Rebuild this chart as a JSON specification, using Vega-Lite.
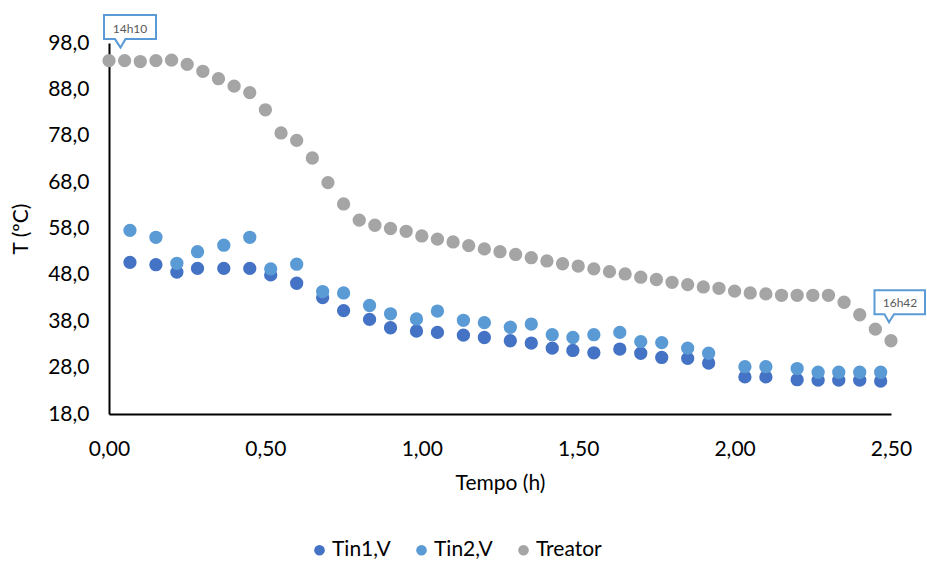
{
  "$schema": "https://vega.github.io/schema/vega-lite/v6.json",
  "autosize": {"type": "none"},
  "width": 782,
  "height": 371,
  "padding": {"left": 109, "top": 43, "right": 36, "bottom": 147},
  "background": "white",
  "config": {
    "view": {"stroke": null},
    "font": "Lato",
    "axis": {"grid": false, "ticks": false, "labelFlush": false, "labelOverlap": false, "domainColor": "#000000", "domainWidth": 2, "labelFont": "Lato", "labelFontSize": 21, "labelColor": "#000000", "titleFont": "Lato", "titleFontSize": 21, "titleFontWeight": "normal", "titleColor": "#000000"}
  },
  "datasets": {
    "series": [
      {"t": 0.067, "T": 50.7, "serie": "Tin1,V"},
      {"t": 0.150, "T": 50.2, "serie": "Tin1,V"},
      {"t": 0.217, "T": 48.6, "serie": "Tin1,V"},
      {"t": 0.283, "T": 49.4, "serie": "Tin1,V"},
      {"t": 0.367, "T": 49.4, "serie": "Tin1,V"},
      {"t": 0.450, "T": 49.4, "serie": "Tin1,V"},
      {"t": 0.517, "T": 48.0, "serie": "Tin1,V"},
      {"t": 0.600, "T": 46.2, "serie": "Tin1,V"},
      {"t": 0.683, "T": 43.1, "serie": "Tin1,V"},
      {"t": 0.750, "T": 40.3, "serie": "Tin1,V"},
      {"t": 0.833, "T": 38.4, "serie": "Tin1,V"},
      {"t": 0.900, "T": 36.6, "serie": "Tin1,V"},
      {"t": 0.983, "T": 35.9, "serie": "Tin1,V"},
      {"t": 1.050, "T": 35.6, "serie": "Tin1,V"},
      {"t": 1.133, "T": 35.0, "serie": "Tin1,V"},
      {"t": 1.200, "T": 34.5, "serie": "Tin1,V"},
      {"t": 1.283, "T": 33.8, "serie": "Tin1,V"},
      {"t": 1.350, "T": 33.3, "serie": "Tin1,V"},
      {"t": 1.417, "T": 32.2, "serie": "Tin1,V"},
      {"t": 1.483, "T": 31.7, "serie": "Tin1,V"},
      {"t": 1.550, "T": 31.2, "serie": "Tin1,V"},
      {"t": 1.633, "T": 32.0, "serie": "Tin1,V"},
      {"t": 1.700, "T": 31.1, "serie": "Tin1,V"},
      {"t": 1.767, "T": 30.2, "serie": "Tin1,V"},
      {"t": 1.850, "T": 30.0, "serie": "Tin1,V"},
      {"t": 1.917, "T": 29.0, "serie": "Tin1,V"},
      {"t": 2.033, "T": 26.0, "serie": "Tin1,V"},
      {"t": 2.100, "T": 26.0, "serie": "Tin1,V"},
      {"t": 2.200, "T": 25.4, "serie": "Tin1,V"},
      {"t": 2.267, "T": 25.3, "serie": "Tin1,V"},
      {"t": 2.333, "T": 25.3, "serie": "Tin1,V"},
      {"t": 2.400, "T": 25.3, "serie": "Tin1,V"},
      {"t": 2.467, "T": 25.1, "serie": "Tin1,V"},
      {"t": 0.067, "T": 57.6, "serie": "Tin2,V"},
      {"t": 0.150, "T": 56.1, "serie": "Tin2,V"},
      {"t": 0.217, "T": 50.5, "serie": "Tin2,V"},
      {"t": 0.283, "T": 53.0, "serie": "Tin2,V"},
      {"t": 0.367, "T": 54.4, "serie": "Tin2,V"},
      {"t": 0.450, "T": 56.1, "serie": "Tin2,V"},
      {"t": 0.517, "T": 49.3, "serie": "Tin2,V"},
      {"t": 0.600, "T": 50.3, "serie": "Tin2,V"},
      {"t": 0.683, "T": 44.4, "serie": "Tin2,V"},
      {"t": 0.750, "T": 44.1, "serie": "Tin2,V"},
      {"t": 0.833, "T": 41.4, "serie": "Tin2,V"},
      {"t": 0.900, "T": 39.6, "serie": "Tin2,V"},
      {"t": 0.983, "T": 38.5, "serie": "Tin2,V"},
      {"t": 1.050, "T": 40.2, "serie": "Tin2,V"},
      {"t": 1.133, "T": 38.2, "serie": "Tin2,V"},
      {"t": 1.200, "T": 37.7, "serie": "Tin2,V"},
      {"t": 1.283, "T": 36.7, "serie": "Tin2,V"},
      {"t": 1.350, "T": 37.4, "serie": "Tin2,V"},
      {"t": 1.417, "T": 35.1, "serie": "Tin2,V"},
      {"t": 1.483, "T": 34.5, "serie": "Tin2,V"},
      {"t": 1.550, "T": 35.1, "serie": "Tin2,V"},
      {"t": 1.633, "T": 35.6, "serie": "Tin2,V"},
      {"t": 1.700, "T": 33.6, "serie": "Tin2,V"},
      {"t": 1.767, "T": 33.4, "serie": "Tin2,V"},
      {"t": 1.850, "T": 32.2, "serie": "Tin2,V"},
      {"t": 1.917, "T": 31.1, "serie": "Tin2,V"},
      {"t": 2.033, "T": 28.2, "serie": "Tin2,V"},
      {"t": 2.100, "T": 28.2, "serie": "Tin2,V"},
      {"t": 2.200, "T": 27.8, "serie": "Tin2,V"},
      {"t": 2.267, "T": 27.0, "serie": "Tin2,V"},
      {"t": 2.333, "T": 27.0, "serie": "Tin2,V"},
      {"t": 2.400, "T": 27.0, "serie": "Tin2,V"},
      {"t": 2.467, "T": 27.0, "serie": "Tin2,V"},
      {"t": 0.00, "T": 94.2, "serie": "Treator"},
      {"t": 0.05, "T": 94.2, "serie": "Treator"},
      {"t": 0.10, "T": 94.0, "serie": "Treator"},
      {"t": 0.15, "T": 94.2, "serie": "Treator"},
      {"t": 0.20, "T": 94.3, "serie": "Treator"},
      {"t": 0.25, "T": 93.4, "serie": "Treator"},
      {"t": 0.30, "T": 91.9, "serie": "Treator"},
      {"t": 0.35, "T": 90.3, "serie": "Treator"},
      {"t": 0.40, "T": 88.7, "serie": "Treator"},
      {"t": 0.45, "T": 87.3, "serie": "Treator"},
      {"t": 0.50, "T": 83.6, "serie": "Treator"},
      {"t": 0.55, "T": 78.6, "serie": "Treator"},
      {"t": 0.60, "T": 77.0, "serie": "Treator"},
      {"t": 0.65, "T": 73.2, "serie": "Treator"},
      {"t": 0.70, "T": 67.9, "serie": "Treator"},
      {"t": 0.75, "T": 63.3, "serie": "Treator"},
      {"t": 0.80, "T": 59.8, "serie": "Treator"},
      {"t": 0.85, "T": 58.7, "serie": "Treator"},
      {"t": 0.90, "T": 58.0, "serie": "Treator"},
      {"t": 0.95, "T": 57.4, "serie": "Treator"},
      {"t": 1.00, "T": 56.4, "serie": "Treator"},
      {"t": 1.05, "T": 55.7, "serie": "Treator"},
      {"t": 1.10, "T": 55.1, "serie": "Treator"},
      {"t": 1.15, "T": 54.3, "serie": "Treator"},
      {"t": 1.20, "T": 53.6, "serie": "Treator"},
      {"t": 1.25, "T": 53.0, "serie": "Treator"},
      {"t": 1.30, "T": 52.4, "serie": "Treator"},
      {"t": 1.35, "T": 51.7, "serie": "Treator"},
      {"t": 1.40, "T": 51.0, "serie": "Treator"},
      {"t": 1.45, "T": 50.4, "serie": "Treator"},
      {"t": 1.50, "T": 49.9, "serie": "Treator"},
      {"t": 1.55, "T": 49.3, "serie": "Treator"},
      {"t": 1.60, "T": 48.7, "serie": "Treator"},
      {"t": 1.65, "T": 48.2, "serie": "Treator"},
      {"t": 1.70, "T": 47.5, "serie": "Treator"},
      {"t": 1.75, "T": 47.0, "serie": "Treator"},
      {"t": 1.80, "T": 46.4, "serie": "Treator"},
      {"t": 1.85, "T": 45.9, "serie": "Treator"},
      {"t": 1.90, "T": 45.4, "serie": "Treator"},
      {"t": 1.95, "T": 45.1, "serie": "Treator"},
      {"t": 2.00, "T": 44.5, "serie": "Treator"},
      {"t": 2.05, "T": 44.1, "serie": "Treator"},
      {"t": 2.10, "T": 43.9, "serie": "Treator"},
      {"t": 2.15, "T": 43.6, "serie": "Treator"},
      {"t": 2.20, "T": 43.6, "serie": "Treator"},
      {"t": 2.25, "T": 43.6, "serie": "Treator"},
      {"t": 2.30, "T": 43.6, "serie": "Treator"},
      {"t": 2.35, "T": 42.1, "serie": "Treator"},
      {"t": 2.40, "T": 39.4, "serie": "Treator"},
      {"t": 2.45, "T": 36.3, "serie": "Treator"},
      {"t": 2.50, "T": 33.8, "serie": "Treator"}
    ],
    "callouts": [
      {"t": 0.0, "T": 94.2, "label": "14h10"},
      {"t": 2.5, "T": 33.8, "label": "16h42"}
    ]
  },
  "layer": [
    {
      "data": {"name": "series"},
      "mark": {"type": "point", "filled": true, "size": 177, "opacity": 1, "strokeWidth": 0},
      "encoding": {
        "x": {"field": "t", "type": "quantitative",
              "scale": {"domain": [0, 2.5], "nice": false, "zero": false},
              "axis": {"values": [0, 0.5, 1, 1.5, 2, 2.5], "labelExpr": "replace(format(datum.value, '.2f'), '.', ',')", "labelPadding": 24, "title": "Tempo (h)", "titlePadding": 13}},
        "y": {"field": "T", "type": "quantitative",
              "scale": {"domain": [18, 98], "nice": false, "zero": false},
              "axis": {"values": [18, 28, 38, 48, 58, 68, 78, 88, 98], "labelExpr": "replace(format(datum.value, '.1f'), '.', ',')", "labelPadding": 20, "title": "T (ºC)", "titlePadding": 16}},
        "color": {"field": "serie", "type": "nominal",
                  "scale": {"domain": ["Tin1,V", "Tin2,V", "Treator"], "range": ["#4472C4", "#5B9BD5", "#A5A5A5"]},
                  "legend": {"title": null, "orient": "none", "direction": "horizontal", "legendX": 200, "legendY": 496.5, "symbolType": "circle", "symbolSize": 113, "symbolStrokeWidth": 0, "labelFont": "Lato", "labelFontSize": 21, "labelColor": "#000000", "labelOffset": 2, "labelLimit": 400, "columnPadding": 20}}
      }
    },
    {
      "data": {"name": "callouts"},
      "mark": {"type": "point", "size": 4, "fill": "white", "fillOpacity": 1, "stroke": "#5B9BD5", "strokeWidth": 2, "opacity": 1, "strokeJoin": "miter"},
      "encoding": {
        "x": {"field": "t", "type": "quantitative"},
        "y": {"field": "T", "type": "quantitative"},
        "shape": {"field": "label", "type": "nominal", "legend": null,
                  "scale": {"domain": ["14h10", "16h42"], "range": [
                    "M -5 -45.5 L 47 -45.5 L 47 -21.5 L 16.5 -21.5 L 11.5 -13 L 6 -21.5 L -5 -21.5 Z",
                    "M -16.5 -50.5 L 34 -50.5 L 34 -26.5 L 3 -26.5 L -2 -18.5 L -6.5 -26.5 L -16.5 -26.5 Z"
                  ]}}
      }
    },
    {
      "data": {"values": [{"t": 0.0, "T": 94.2, "label": "14h10"}]},
      "mark": {"type": "text", "font": "Lato", "fontSize": 12, "color": "#595959", "dx": 21, "dy": -32, "align": "center", "baseline": "middle"},
      "encoding": {
        "x": {"field": "t", "type": "quantitative"},
        "y": {"field": "T", "type": "quantitative"},
        "text": {"field": "label"}
      }
    },
    {
      "data": {"values": [{"t": 2.5, "T": 33.8, "label": "16h42"}]},
      "mark": {"type": "text", "font": "Lato", "fontSize": 12, "color": "#595959", "dx": 9, "dy": -38, "align": "center", "baseline": "middle"},
      "encoding": {
        "x": {"field": "t", "type": "quantitative"},
        "y": {"field": "T", "type": "quantitative"},
        "text": {"field": "label"}
      }
    }
  ]
}
